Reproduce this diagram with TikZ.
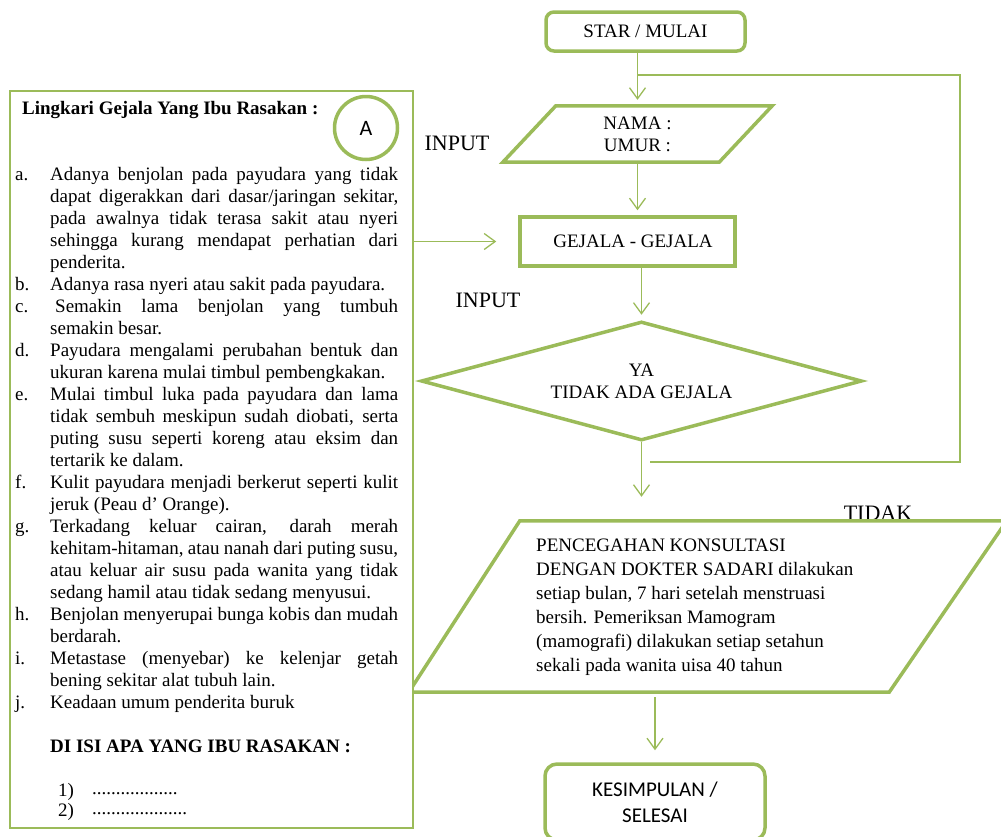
\documentclass[tikz,border=0pt]{standalone}
\usepackage{fontspec}
\setmainfont{Liberation Serif}
\newfontfamily\calibri{Carlito}
\usepackage{tikz}
\usetikzlibrary{shapes,arrows,arrows.meta,positioning}

\definecolor{hijau}{RGB}{155,187,89}

% list for the symptoms: label flush left, text indented
\newenvironment{gejalalist}{%
  \begin{list}{}{\setlength\leftmargin{35pt}\setlength\labelwidth{35pt}%
    \setlength\labelsep{0pt}\setlength\itemsep{0pt}\setlength\parsep{0pt}%
    \setlength\topsep{0pt}\setlength\partopsep{0pt}%
    \renewcommand\makelabel[1]{##1\hfil}}}%
  {\end{list}}

\begin{document}
\begin{tikzpicture}[x=1pt,y=-1pt,
    garis/.style={draw=hijau,line width=3.5pt},
    alur/.style={draw=hijau,line width=1.3pt},
    link/.style={alur,-{Straight Barb[length=11pt,width=16pt]}},
    teks/.style={font=\fontsize{19}{22}\selectfont,inner sep=0pt},
    label/.style={font=\fontsize{22}{26}\selectfont,inner sep=0pt}]

  \useasboundingbox (0,0) rectangle (1001,836);
  \clip (0,0) rectangle (1001,836);

  % start
  \node[garis,teks,rounded corners=8pt,minimum width=199pt,minimum height=39pt] (start) at (645.5,31.5) {STAR / MULAI};

  % input nama / umur
  \node[teks,minimum width=216pt,minimum height=56pt,align=center] (nama) at (637.5,134) {NAMA :\\UMUR :};
  \draw[garis] ([xshift=26.5pt]nama.north west) -- ([xshift=26.5pt]nama.north east)
    -- ([xshift=-26.5pt]nama.south east) -- ([xshift=-26.5pt]nama.south west) -- cycle;
  \node[label] (input1) at (457,143) {INPUT};

  % gejala
  \node[garis,teks,minimum width=215pt,minimum height=49pt] (gejala) at (627.5,241.5) {\hspace{11pt}GEJALA - GEJALA};
  \node[label] (input2) at (488,300) {INPUT};

  % decision
  \node[garis,teks,diamond,minimum width=441pt,minimum height=119pt,aspect=3.7,align=center] (cek) at (641.5,381) {YA\\TIDAK ADA GEJALA};
  \node[label] (tidak) at (878,513) {TIDAK};

  % pencegahan (parallelogram)
  \node[minimum width=480pt,minimum height=171pt] (cegah) at (704.5,606.5) {};
  \draw[garis] ([xshift=55.5pt]cegah.north west) -- ([xshift=62pt]cegah.north east)
    -- ([xshift=-55.5pt]cegah.south east) -- ([xshift=-55.5pt]cegah.south west) -- cycle;
  \node[teks,anchor=north west,align=left,font=\fontsize{19}{24}\selectfont] (saran) at (536,539)
    {PENCEGAHAN KONSULTASI\\DENGAN DOKTER SADARI dilakukan\\setiap bulan, 7 hari setelah menstruasi\\bersih. Pemeriksan Mamogram\\(mamografi) dilakukan setiap setahun\\sekali pada wanita uisa 40 tahun};

  % end
  \node[garis,rounded corners=12pt,minimum width=220pt,minimum height=76pt,align=center,
    font=\calibri\fontsize{21}{26}\selectfont] (selesai) at (655,802) {KESIMPULAN /\\SELESAI};

  % left box, drawn over the parallelogram
  \node[draw=hijau,line width=1.3pt,fill=white,minimum width=403pt,minimum height=737pt] (kotak) at (211.5,459.5) {};
  \node[teks,anchor=west,font=\bfseries\fontsize{19}{22}\selectfont] (judul) at (22,110) {Lingkari Gejala Yang Ibu Rasakan :};
  \node[circle,draw=hijau,line width=3.5pt,minimum size=63pt,inner sep=0pt,
    font=\calibri\fontsize{22}{26}\selectfont] (lingkar) at (366,128) {A};

  \node[teks,anchor=north west,text width=383pt,align=justify] (daftar) at (15,158) {%
    \hyphenpenalty=10000
    \begin{gejalalist}
    \item[a.] Adanya benjolan pada payudara yang tidak\linebreak dapat digerakkan dari dasar/jaringan sekitar,\linebreak pada awalnya tidak terasa sakit atau nyeri\linebreak sehingga kurang mendapat perhatian dari\linebreak penderita.
    \item[b.] Adanya rasa nyeri atau sakit pada payudara.
    \item[c.] \hspace*{5pt}Semakin lama benjolan yang tumbuh\linebreak semakin besar.
    \item[d.] Payudara mengalami perubahan bentuk dan\linebreak ukuran karena mulai timbul pembengkakan.
    \item[e.] Mulai timbul luka pada payudara dan lama\linebreak tidak sembuh meskipun sudah diobati, serta\linebreak puting susu seperti koreng atau eksim dan\linebreak tertarik ke dalam.
    \item[f.] Kulit payudara menjadi berkerut seperti kulit\linebreak jeruk (Peau d’ Orange).
    \item[g.] Terkadang keluar cairan, darah merah\linebreak kehitam-hitaman, atau nanah dari puting susu,\linebreak atau keluar air susu pada wanita yang tidak\linebreak sedang hamil atau tidak sedang menyusui.
    \item[h.] Benjolan menyerupai bunga kobis dan mudah\linebreak berdarah.
    \item[i.] Metastase (menyebar) ke kelenjar getah\linebreak bening sekitar alat tubuh lain.
    \item[j.] Keadaan umum penderita buruk
    \end{gejalalist}};

  \node[teks,anchor=west,font=\bfseries\fontsize{19}{22}\selectfont] (isi) at (50,746) {DI ISI APA YANG IBU RASAKAN :};
  \node[teks,anchor=west] (no1) at (58,792) {1)};
  \node[teks,anchor=west] (no2) at (58,812) {2)};
  \node[teks,anchor=west] (titik1) at (92,794) {..................};
  \node[teks,anchor=west] (titik2) at (92,814) {....................};

  % connectors
  \draw[link,shorten >=6pt] (start.south -| nama.north) -- (nama.north);
  \coordinate (putar) at (960,462);
  \coordinate (balik) at (650,462);
  \draw[alur] (nama.north |- 0,75) -| (putar) -- (balik);
  \draw[link,shorten >=5pt] (nama.south) -- (nama.south |- gejala.north);
  \draw[link,shorten >=5pt] (cek.north |- gejala.south) -- (cek.north);
  \draw[link,shorten >=24pt] (cek.south) -- (cek.south |- cegah.north);
  \draw[link,shorten <=5pt,shorten >=12pt] (cegah.south -| selesai.north) -- (selesai.north);
  \draw[link] (kotak.east |- gejala.west) -- ([xshift=-22pt]gejala.west);
\end{tikzpicture}
\end{document}
